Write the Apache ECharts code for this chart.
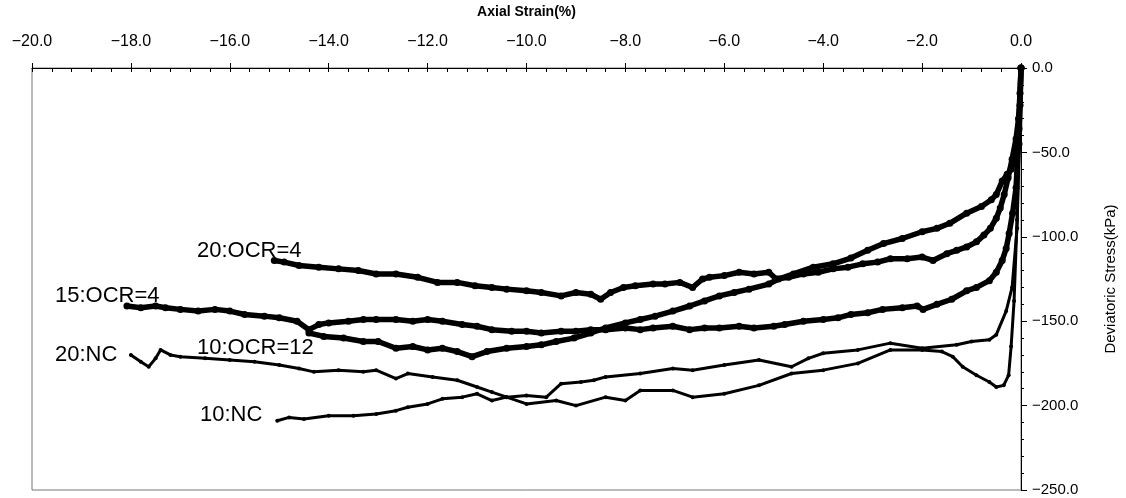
<!DOCTYPE html>
<html>
<head>
<meta charset="utf-8">
<script src="https://cdn.jsdelivr.net/npm/echarts@6/dist/echarts.min.js"></script>
<style>
html,body{margin:0;padding:0;background:#fff;}
#chart{width:1126px;height:498px;}
</style>
</head>
<body>
<div id="chart"></div>
<script>
// ---- data: [axial strain %, deviatoric stress kPa] ----
const ocr20_4 = [
[0,0],[-0.02,-15],[-0.05,-30],[-0.1,-42],[-0.18,-54],[-0.26,-65],[-0.34,-75],[-0.42,-83],[-0.5,-89],[-0.62,-95],
[-0.75,-99],[-0.9,-103],[-1.1,-106],[-1.3,-108],[-1.5,-110],[-1.78,-114],[-2.0,-112],[-2.3,-113],[-2.64,-113],[-2.9,-115],
[-3.2,-116],[-3.5,-118],[-3.8,-119],[-4.1,-121],[-4.4,-122],[-4.7,-124],[-4.95,-125],[-5.1,-121],[-5.4,-122],[-5.7,-121],
[-6.0,-123],[-6.3,-124],[-6.44,-125],[-6.64,-130],[-6.9,-127],[-7.2,-128],[-7.44,-128],[-7.8,-129],[-8.04,-130],[-8.3,-133],
[-8.5,-137],[-8.7,-134],[-9.0,-133],[-9.3,-135],[-9.7,-133],[-10.0,-132],[-10.4,-131],[-10.7,-130],[-11.04,-129],[-11.4,-127],
[-11.8,-127],[-12.2,-124],[-12.64,-122],[-13.04,-122],[-13.4,-120],[-13.8,-119],[-14.2,-118],[-14.6,-117],[-14.9,-115],[-15.1,-114]
];
const ocr15_4 = [
[-18.08,-141],[-17.8,-142],[-17.5,-141],[-17.3,-142],[-17.0,-143],[-16.64,-144],[-16.3,-143],[-16.0,-144],[-15.7,-146],[-15.3,-147],
[-15.0,-148],[-14.64,-150],[-14.4,-155],[-14.2,-152],[-14.0,-151],[-13.6,-150],[-13.3,-149],[-13.04,-149],[-12.64,-149],[-12.3,-150],
[-12.0,-149],[-11.7,-150],[-11.3,-152],[-11.0,-153],[-10.7,-155],[-10.3,-156],[-10.0,-156],[-9.7,-157],[-9.3,-156],[-9.0,-156],
[-8.7,-155],[-8.4,-155],[-8.0,-154],[-7.7,-155],[-7.44,-154],[-7.04,-153],[-6.7,-155],[-6.4,-154],[-6.1,-154],[-5.7,-153],
[-5.4,-154],[-5.0,-153],[-4.78,-152],[-4.4,-150],[-4.0,-149],[-3.7,-148],[-3.44,-146],[-3.1,-145],[-2.8,-143],[-2.4,-142],
[-2.1,-141],[-1.98,-143],[-1.7,-140],[-1.4,-137],[-1.1,-132],[-0.9,-130],[-0.64,-126],[-0.5,-121],[-0.38,-114],[-0.3,-107],
[-0.24,-98],[-0.17,-86],[-0.1,-71],[-0.04,-36],[0,0]
];
const ocr10_12 = [
[-14.4,-157],[-14.1,-159],[-13.7,-160],[-13.3,-162],[-13.0,-162],[-12.64,-166],[-12.3,-165],[-12.0,-167],[-11.7,-166],[-11.4,-168],
[-11.1,-171],[-10.8,-168],[-10.4,-166],[-10.0,-165],[-9.7,-164],[-9.4,-162],[-9.04,-160],[-8.7,-157],[-8.4,-154],[-8.0,-151],
[-7.7,-149],[-7.4,-147],[-7.04,-144],[-6.7,-141],[-6.4,-138],[-6.1,-135],[-5.8,-133],[-5.5,-131],[-5.1,-128],[-4.9,-125],
[-4.6,-122],[-4.2,-118],[-3.8,-116],[-3.44,-112.6],[-3.1,-108],[-2.78,-104],[-2.4,-101],[-2.0,-97],[-1.7,-95],[-1.44,-92],
[-1.1,-86],[-0.8,-82],[-0.6,-78],[-0.5,-75],[-0.38,-67],[-0.28,-63],[-0.2,-60],[-0.1,-52],[-0.04,-45],[-0.02,-22],[0,0]
];
const nc20 = [
[-18,-170],[-17.8,-174],[-17.64,-177],[-17.5,-172],[-17.4,-167],[-17.2,-170],[-17,-171],[-16.5,-172],[-16,-173],[-15.5,-174],
[-15,-176],[-14.6,-178],[-14.3,-180],[-13.8,-179],[-13.3,-180],[-13.04,-179],[-12.64,-184],[-12.4,-181],[-11.9,-183],[-11.4,-185],
[-11,-189],[-10.7,-192],[-10.4,-195],[-10,-194],[-9.6,-195],[-9.3,-187],[-8.9,-186],[-8.64,-185],[-8.4,-183],[-7.7,-181],
[-7.04,-178],[-6.64,-179],[-6,-176],[-5.3,-173],[-4.64,-177],[-4.3,-172],[-4,-169],[-3.3,-167],[-2.64,-163],[-2,-166],
[-1.3,-164],[-1.0,-162],[-0.64,-161],[-0.5,-158],[-0.3,-144],[-0.18,-130],[-0.08,-95],[-0.03,-40],[0,0]
];
const nc10 = [
[-15.04,-209],[-14.8,-207],[-14.5,-208],[-14,-206],[-13.5,-206],[-13.04,-205],[-12.64,-203],[-12.4,-201],[-12,-199],[-11.7,-196],
[-11.3,-195],[-11,-193],[-10.7,-197],[-10.4,-195],[-10,-199],[-9.4,-197],[-9,-200],[-8.4,-195],[-8.0,-197],[-7.7,-191],
[-7.04,-191],[-6.64,-195],[-6.0,-193],[-5.3,-188],[-4.64,-181],[-4,-179],[-3.3,-175],[-2.64,-167],[-2,-167],[-1.6,-168],
[-1.38,-171],[-1.18,-177],[-0.9,-182],[-0.64,-186],[-0.5,-189],[-0.35,-188],[-0.25,-182],[-0.2,-165],[-0.14,-138],[-0.08,-90],
[-0.04,-40],[0,0]
];
const curveLabels = ['20:OCR=4','15:OCR=4','10:OCR=12','20:NC','10:NC'];
const xTitle = 'Axial Strain(%)';
const yTitle = 'Deviatoric Stress(kPa)';

const fmt = v => (v < 0 ? '\u2212' : '') + Math.abs(v).toFixed(1);
const FONT = '"Liberation Sans", Arial, sans-serif';

function mkSeries(name, data, thick) {
  return {
    name, type: 'line', data,
    xAxisIndex: 0, yAxisIndex: 0,
    symbol: 'circle', symbolSize: thick ? 7 : 4, showSymbol: true,
    lineStyle: { color: '#000', width: thick ? 5.5 : 3, join: 'round', cap: 'round' },
    itemStyle: { color: '#000' },
    animation: false, silent: true
  };
}

const chart = echarts.init(document.getElementById('chart'), null, { renderer: 'canvas' });
chart.setOption({
  backgroundColor: '#fff',
  animation: false,
  grid: { left: 32, right: 94, top: 66, bottom: 8, show: true, borderColor: '#777', borderWidth: 1 },
  xAxis: [
    {
      type: 'value', position: 'top', min: -20, max: 0, interval: 2,
      name: xTitle, nameLocation: 'middle', nameGap: 49,
      nameTextStyle: { fontFamily: FONT, fontSize: 14, fontWeight: 'bold', color: '#000' },
      axisLine: { show: true, lineStyle: { color: '#000', width: 1 } },
      axisTick: { show: true, inside: false, length: 5, lineStyle: { color: '#000' } },
      axisLabel: { formatter: fmt, margin: 18, fontFamily: FONT, fontSize: 16, color: '#000' },
      splitLine: { show: false }
    },
    {
      type: 'value', position: 'top', min: -20, max: 0, interval: 2,
      axisLine: { show: false },
      axisTick: { show: true, inside: true, length: 4, lineStyle: { color: '#000' } },
      minorTick: { show: true, splitNumber: 5, length: 4, lineStyle: { color: '#000' } },
      axisLabel: { show: false },
      splitLine: { show: false }
    }
  ],
  yAxis: {
    type: 'value', position: 'right', min: -250, max: 0, interval: 50,
    name: yTitle, nameLocation: 'middle', nameGap: 82, nameRotate: 90,
    nameTextStyle: { fontFamily: FONT, fontSize: 15, color: '#000' },
    axisLine: { show: true, lineStyle: { color: '#000', width: 1 } },
    axisTick: { show: true, inside: false, length: 6, lineStyle: { color: '#000' } },
    minorTick: { show: true, splitNumber: 5, length: 3, lineStyle: { color: '#000' } },
    axisLabel: { formatter: fmt, margin: 11, fontFamily: FONT, fontSize: 15, color: '#000' },
    splitLine: { show: false }
  },
  series: [
    mkSeries(curveLabels[0], ocr20_4, true),
    mkSeries(curveLabels[1], ocr15_4, true),
    mkSeries(curveLabels[2], ocr10_12, true),
    mkSeries(curveLabels[3], nc20, false),
    mkSeries(curveLabels[4], nc10, false)
  ],
  graphic: [
    { type: 'text', left: 197, top: 240, z: 100, style: { text: curveLabels[0], fontFamily: FONT, fontSize: 22, fill: '#000' } },
    { type: 'text', left: 55, top: 285, z: 100, style: { text: curveLabels[1], fontFamily: FONT, fontSize: 22, fill: '#000' } },
    { type: 'text', left: 197, top: 337, z: 100, style: { text: curveLabels[2], fontFamily: FONT, fontSize: 22, fill: '#000' } },
    { type: 'text', left: 55, top: 344, z: 100, style: { text: curveLabels[3], fontFamily: FONT, fontSize: 22, fill: '#000' } },
    { type: 'text', left: 200, top: 404, z: 100, style: { text: curveLabels[4], fontFamily: FONT, fontSize: 22, fill: '#000' } }
  ]
});
</script>
</body>
</html>
